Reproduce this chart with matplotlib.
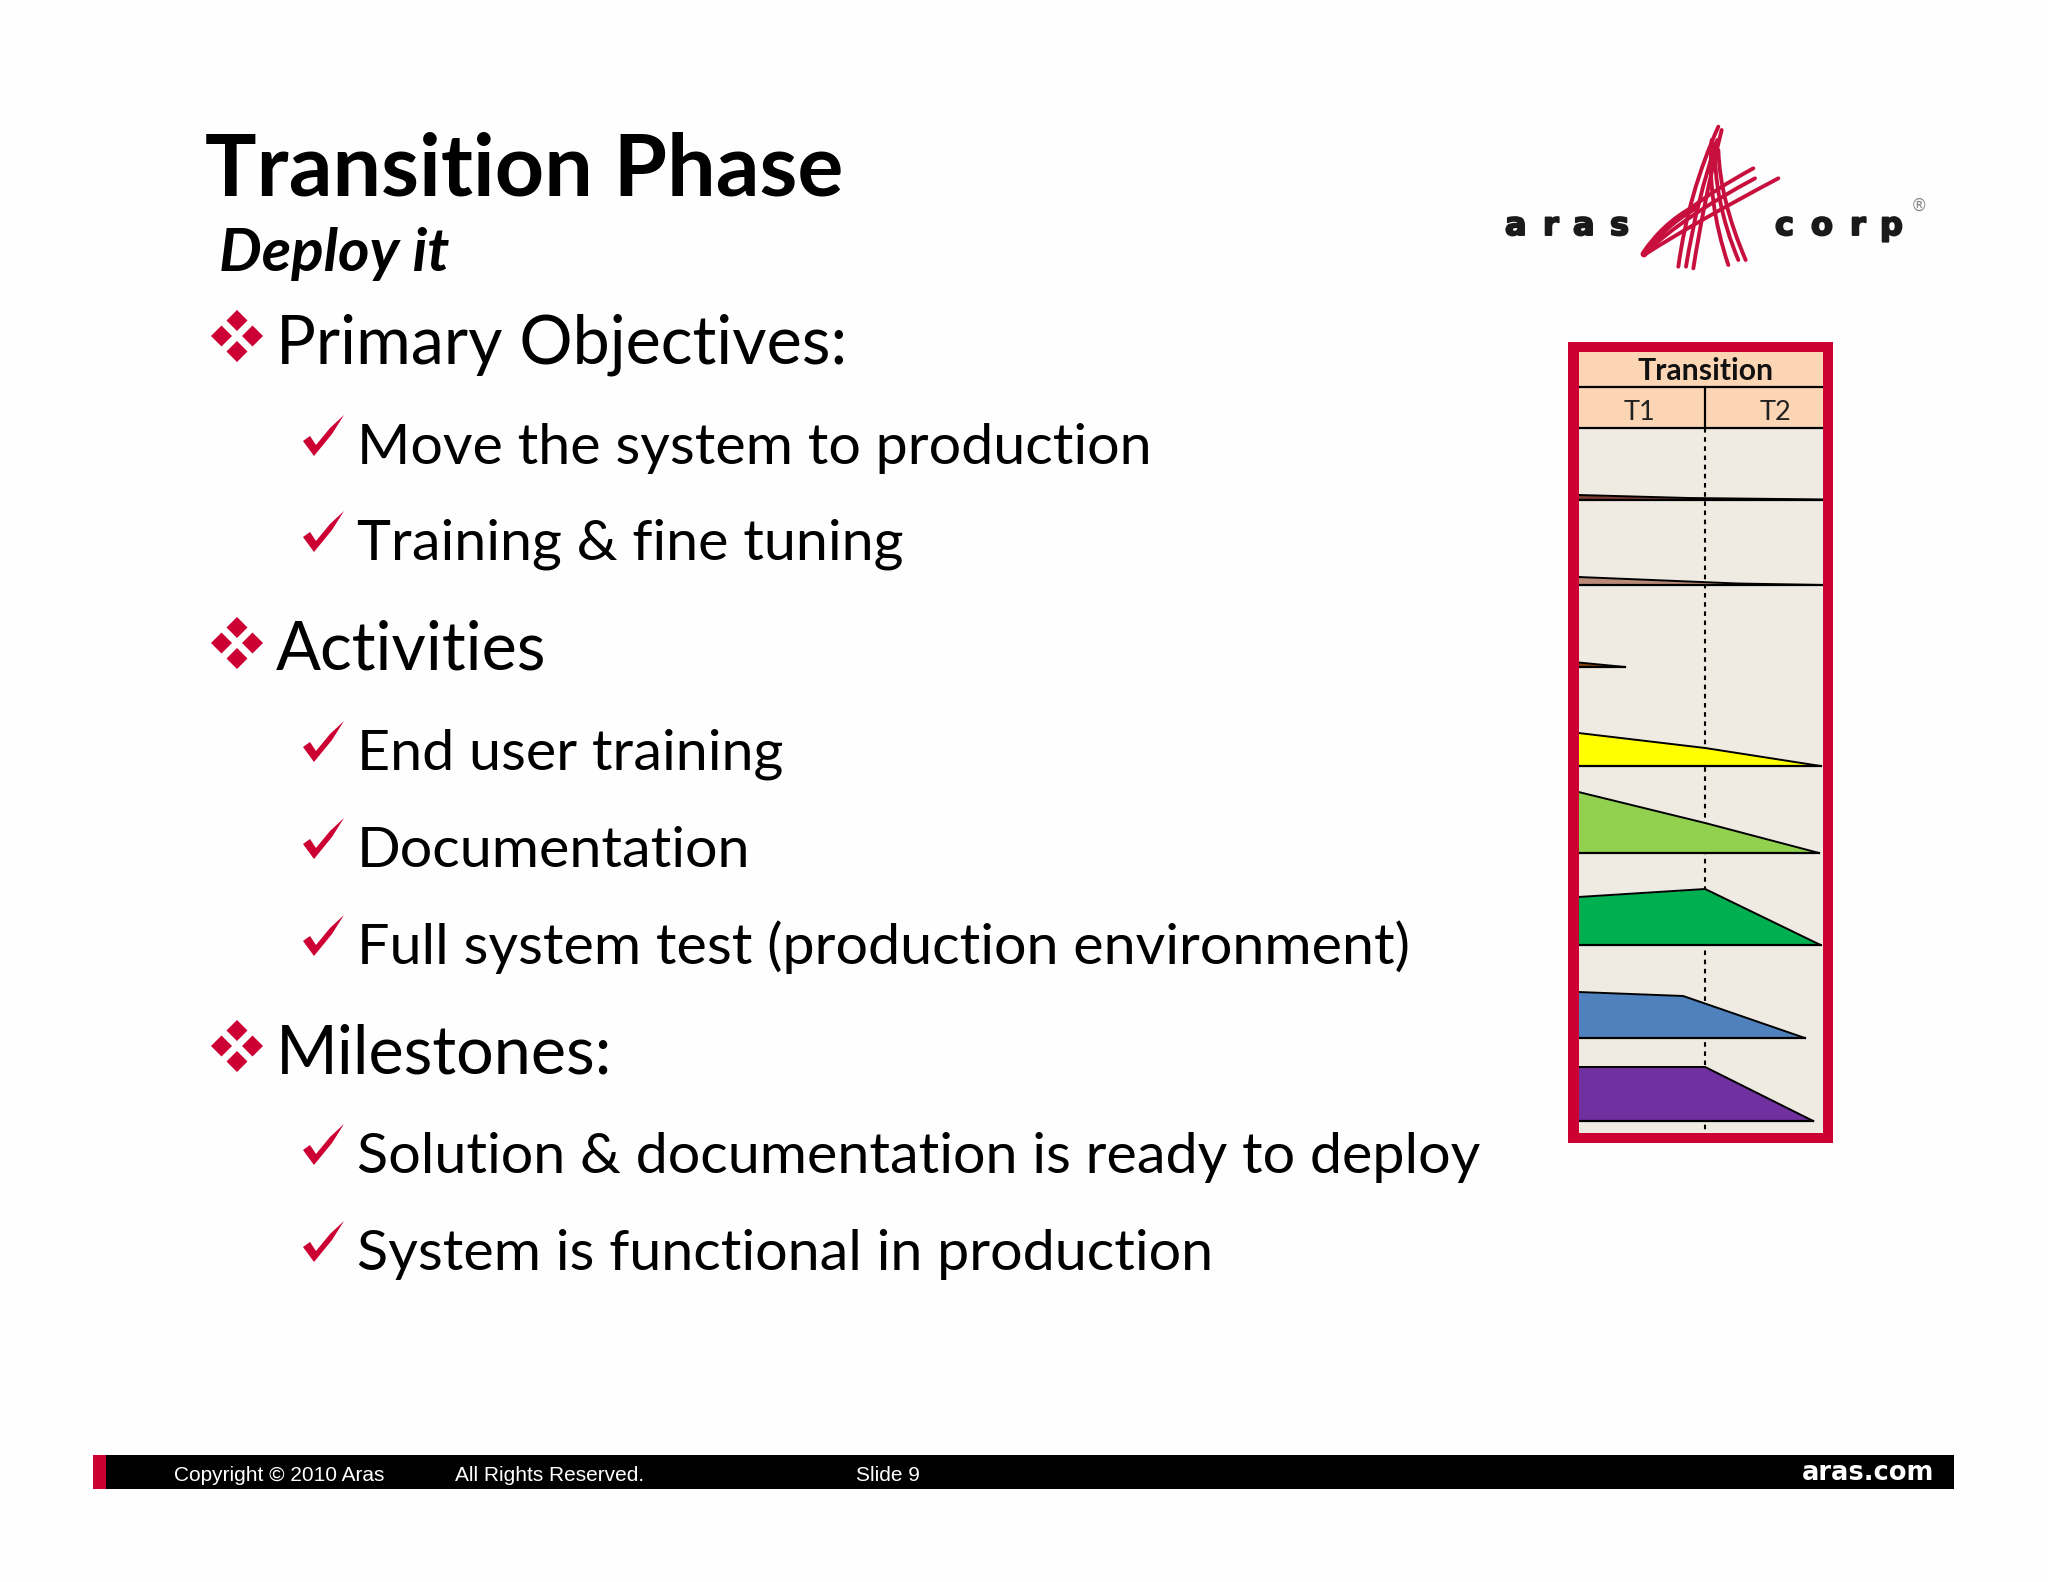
import matplotlib
matplotlib.use("Agg")
import matplotlib.pyplot as plt
import matplotlib.patheffects as pe
from matplotlib.patches import Rectangle, Polygon, PathPatch
from matplotlib.path import Path

# slide text
title = "Transition Phase"
subtitle = "Deploy it"
level1_items = ["Primary Objectives:", "Activities", "Milestones:"]
level1_base = [363, 670, 1073]
level2_items = [
    "Move the system to production",
    "Training & fine tuning",
    "End user training",
    "Documentation",
    "Full system test (production environment)",
    "Solution & documentation is ready to deploy",
    "System is functional in production",
]
level2_base = [464, 560, 770, 867, 964, 1173, 1270]

# phase panel, x = share of the transition phase, h = height of the hump
t1_end = 0.518
row_base = [147.5, 233, 315, 414, 501, 593, 686, 769]
row_colors = ["#7A3B32", "#B98A78", "#8B4513", "#FFFF00", "#92D050", "#00B050", "#4F81BD", "#7030A0"]
row1_x, row1_h = [0, 0.45, 0.9, 1], [4.5, 1.5, 0.3, 0]
row2_x, row2_h = [0, 0.65, 1], [8, 1.5, 0]
row3_x, row3_h = [0, 0.19], [4.5, 0]
row4_x, row4_h = [0, 0.518, 0.99], [33, 18, 0]
row5_x, row5_h = [0, 0.518, 0.984], [61, 30, 0]
row6_x, row6_h = [0, 0.518, 0.99], [48, 56, 0]
row7_x, row7_h = [0, 0.428, 0.926], [46, 42, 0]
row8_x, row8_h = [0, 0.518, 0.96], [54, 54, 0]
row_x = [row1_x, row2_x, row3_x, row4_x, row5_x, row6_x, row7_x, row8_x]
row_h = [row1_h, row2_h, row3_h, row4_h, row5_h, row6_h, row7_h, row8_h]

RED = "#CC0033"
plt.rcParams["font.family"] = ["Lato", "DejaVu Sans"]

fig = plt.figure(figsize=(20.48, 15.82), dpi=100, facecolor="#FEFEFE")
ax = fig.add_axes([0, 0, 1, 1])
ax.set_xlim(0, 2048)
ax.set_ylim(1582, 0)
ax.axis("off")

ax.text(205, 195, title, fontsize=62, fontweight="bold", va="baseline", color="black")
ax.text(219, 271, subtitle, fontsize=43.5, fontweight="bold", style="italic", va="baseline", color="black")


def diamonds(cx, cy):
    d, r = 15.5, 10.5
    for ox, oy in [(0, -d), (0, d), (-d, 0), (d, 0)]:
        x, y = cx + ox, cy + oy
        ax.add_patch(Polygon([(x, y - r), (x + r, y), (x, y + r), (x - r, y)], color=RED, lw=0))


def check(x, base):
    pts = [(0, -25), (7, -30), (13, -21), (27, -38), (41, -51), (29, -32), (11, -10)]
    ax.add_patch(Polygon([(x + a, base + 2 + b) for a, b in pts], color=RED, lw=0))


for txt, b in zip(level1_items, level1_base):
    ax.text(276, b, txt, fontsize=47.9, va="baseline", color="black")
    diamonds(237, b - 27)
for txt, b in zip(level2_items, level2_base):
    ax.text(357, b, txt, fontsize=41.4, va="baseline", color="black")
    check(303, b)

# logo
bold_stroke = [pe.withStroke(linewidth=1.4, foreground="#1A1A1A")]
for ch, x in zip(["a", "r", "a", "s", "c", "o", "r", "p"],
                 [1505, 1543, 1573, 1610, 1775, 1811, 1850, 1880]):
    ax.text(x, 235, ch, fontsize=23, fontweight="bold", family="DejaVu Sans", va="baseline",
            color="#1A1A1A", path_effects=bold_stroke)
ax.text(1919, 206, "®", fontsize=12, family="DejaVu Sans", ha="center", va="center", color="#8A8A8A")

strokes = [
    [(595, 470), (625, 250), (715, 50)],
    [(618, 470), (650, 270), (712, 90)],
    [(640, 475), (670, 280), (725, 60)],
    [(745, 465), (680, 270), (695, 90)],
    [(775, 450), (700, 270), (705, 100)],
    [(797, 450), (720, 270), (715, 120)],
    [(490, 432), (590, 300), (820, 175)],
    [(495, 430), (610, 320), (825, 205)],
    [(500, 430), (640, 340), (895, 205)],
]
for s in strokes:
    verts = [(1480 + a / 3, 110 + b / 3) for a, b in s]
    path = Path(verts, [Path.MOVETO, Path.CURVE3, Path.CURVE3])
    ax.add_patch(PathPatch(path, fill=False, edgecolor="#C8103E", lw=2.8, capstyle="round"))
# thick root of the swoosh
verts = [(1480 + a / 3, 110 + b / 3) for a, b in [(492, 432), (550, 345), (640, 295)]]
ax.add_patch(PathPatch(Path(verts, [Path.MOVETO, Path.CURVE3, Path.CURVE3]), fill=False,
                       edgecolor="#C8103E", lw=5, capstyle="round"))

# footer
ax.add_patch(Rectangle((93, 1455), 1861, 34, color="black", lw=0))
ax.add_patch(Rectangle((93, 1455), 13, 34, color=RED, lw=0))
for txt, x in [("Copyright © 2010 Aras", 174), ("All Rights Reserved.", 455), ("Slide 9", 856)]:
    ax.text(x, 1481, txt, fontsize=15, family="Liberation Sans", va="baseline", color="white")
ax.text(1934, 1480, "aras.com", fontsize=18.5, fontweight="bold", family="DejaVu Sans",
        ha="right", va="baseline", color="white")

# phase panel
ax.add_patch(Rectangle((1568, 342), 265, 801, color=RED, lw=0))
pax = fig.add_axes([1578.5 / 2048, 1 - 1133 / 1582, 244.5 / 2048, 781 / 1582])
pax.set_xlim(0, 1)
pax.set_ylim(781, 0)
pax.axis("off")
pax.add_patch(Rectangle((0, 0), 1, 781, color="#EFEBE3", lw=0))
pax.add_patch(Rectangle((0, 0), 1, 76, color="#FCD5B5", lw=0))
pax.axhline(35, color="black", lw=1.6)
pax.axhline(76, color="black", lw=1.6)
pax.plot([t1_end, t1_end], [35, 76], color="black", lw=1.6)
pax.plot([t1_end, t1_end], [76, 781], color="black", lw=1.5, ls=(0, (2.2, 2.2)))
pax.text(t1_end, 28, "Transition", fontsize=21.7, fontweight="bold", ha="center", va="baseline", color="#111111")
pax.text(0.248, 68, "T1", fontsize=19.5, ha="center", va="baseline", color="#222222")
pax.text(0.805, 68, "T2", fontsize=19.5, ha="center", va="baseline", color="#222222")

for x, h, base, c in zip(row_x, row_h, row_base, row_colors):
    top = [base - v for v in h]
    pax.fill_between(x, top, base, color=c, lw=0, zorder=3)
    pax.plot(x, top, color="black", lw=1.4, zorder=4)
    pax.plot([x[0], x[-1]], [base, base], color="black", lw=1.6, zorder=4)

fig.savefig("out.png", dpi=100, facecolor=fig.get_facecolor())
